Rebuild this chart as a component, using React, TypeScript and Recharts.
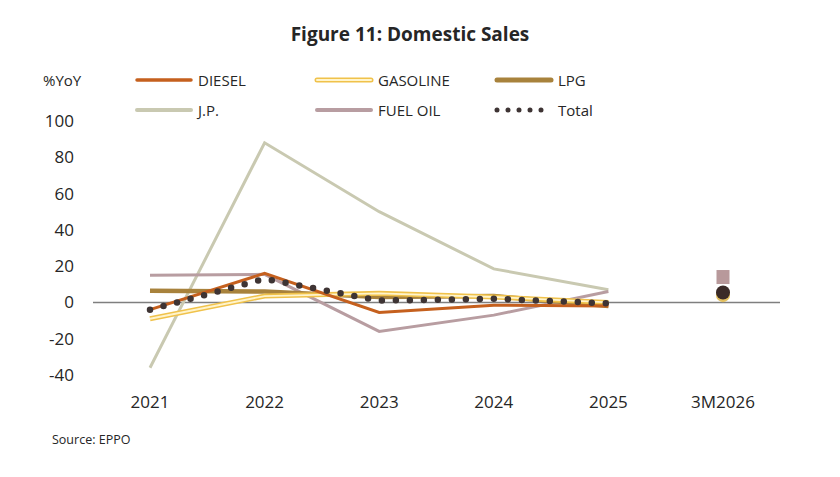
import { LineChart, Line, XAxis, YAxis, ReferenceLine } from 'recharts';

const years = ['2021', '2022', '2023', '2024', '2025', '3M2026'];
const diesel = [-4, 16, -5.5, -1.5, -2, null];
const gasoline = [-9, 3.5, 5, 3, 0, null];
const lpg = [6.5, 6, 3, 3.5, -2, null];
const jp = [-36, 88, 50, 18.5, 7, null];
const fuelOil = [15, 15.5, -16, -7, 6, null];
const total = [-4, 13, 1, 2, -0.5, null];

// 3M2026 is shown as single markers only
const fuelOil3M = 14;
const total3M = 5.5;
const gasoline3M = 4;

const yTicks = [-40, -20, 0, 20, 40, 60, 80, 100];

const data = years.map((year, i) => ({
    year,
    diesel: diesel[i],
    gasoline: gasoline[i],
    lpg: lpg[i],
    jp: jp[i],
    fuelOil: fuelOil[i],
    total: total[i],
    fuelOilMark: i === years.length - 1 ? fuelOil3M : null,
    totalMark: i === years.length - 1 ? total3M : null,
    gasolineMark: i === years.length - 1 ? gasoline3M : null,
}));

const FONT = '"Open Sans", sans-serif';
const TEXT = '#262626';

const SquareDot = (props: any) => {
    const { cx, cy, value } = props;
    if (value == null || cx == null) return null;
    return <rect x={cx - 6.5} y={cy - 7} width={13} height={14} fill='#B8999B' />;
};

const RoundDot = (color: string, r: number) => (props: any) => {
    const { cx, cy, value } = props;
    if (value == null || cx == null) return null;
    return <circle cx={cx} cy={cy} r={r} fill={color} />;
};

function Swatch({ kind }: { kind: string }) {
    if (kind === 'gasoline') {
        return (
            <svg width={60} height={10}>
                <line x1={3} y1={5} x2={57} y2={5} stroke='#F0C24B' strokeWidth={5} strokeLinecap='round' />
                <line x1={3} y1={5} x2={57} y2={5} stroke='#FFF4CC' strokeWidth={2} strokeLinecap='round' />
            </svg>
        );
    }
    if (kind === 'total') {
        return (
            <svg width={60} height={10}>
                <line x1={3} y1={5} x2={58} y2={5} stroke='#3E3434' strokeWidth={5} strokeLinecap='round' strokeDasharray='0 11' />
            </svg>
        );
    }
    const colors: Record<string, [string, number]> = {
        diesel: ['#C5601E', 3.5],
        lpg: ['#A8823C', 5],
        jp: ['#C9C9B1', 4],
        fuelOil: ['#B89DA1', 4],
    };
    const [c, w] = colors[kind];
    return (
        <svg width={60} height={10}>
            <line x1={3} y1={5} x2={57} y2={5} stroke={c} strokeWidth={w} strokeLinecap='round' />
        </svg>
    );
}

const legendItems = [
    { kind: 'diesel', label: 'DIESEL', x: 134, y: 80 },
    { kind: 'gasoline', label: 'GASOLINE', x: 314, y: 80 },
    { kind: 'lpg', label: 'LPG', x: 494, y: 80 },
    { kind: 'jp', label: 'J.P.', x: 134, y: 110 },
    { kind: 'fuelOil', label: 'FUEL OIL', x: 314, y: 110 },
    { kind: 'total', label: 'Total', x: 494, y: 110 },
];

export default function App() {
    return (
        <div
            style={{
                position: 'absolute',
                left: 0,
                top: 0,
                width: 840,
                height: 477,
                background: '#fff',
                fontFamily: FONT,
                color: TEXT,
            }}
        >
            <div
                style={{
                    position: 'absolute',
                    top: 21,
                    width: 820,
                    textAlign: 'center',
                    fontWeight: 700,
                    fontSize: 19,
                }}
            >
                Figure 11: Domestic Sales
            </div>
            <div style={{ position: 'absolute', left: 43, top: 70, fontSize: 15 }}>%YoY</div>
            {legendItems.map((it) => (
                <div
                    key={it.kind}
                    style={{
                        position: 'absolute',
                        left: it.x,
                        top: it.y - 11,
                        display: 'flex',
                        alignItems: 'center',
                        fontSize: 15,
                        height: 22,
                    }}
                >
                    <Swatch kind={it.kind} />
                    <span style={{ marginLeft: 4 }}>{it.label}</span>
                </div>
            ))}
            <div style={{ position: 'absolute', left: 52, top: 431, fontSize: 12.5 }}>Source: EPPO</div>

            <LineChart
                width={840}
                height={477}
                data={data}
                margin={{ top: 121, right: 60, bottom: 72, left: 33 }}
                style={{ position: 'absolute', left: 0, top: 0 }}
            >
                <XAxis
                    dataKey='year'
                    axisLine={false}
                    tickLine={false}
                    tickMargin={15}
                    height={30}
                    padding={{ left: 57, right: 57 }}
                    tick={{ fill: TEXT, fontSize: 17, fontFamily: FONT }}
                />
                <YAxis
                    domain={[-40, 100]}
                    ticks={yTicks}
                    axisLine={false}
                    tickLine={false}
                    tickMargin={13}
                    width={60}
                    tick={{ fill: TEXT, fontSize: 17, fontFamily: FONT }}
                />
                <ReferenceLine y={0} stroke='#7F7F7F' strokeWidth={1.5} />
                <Line dataKey='jp' stroke='#C9C9B1' strokeWidth={3} dot={false} isAnimationActive={false} />
                <Line dataKey='fuelOil' stroke='#B89DA1' strokeWidth={3} dot={false} isAnimationActive={false} />
                <Line dataKey='lpg' stroke='#A8823C' strokeWidth={4.5} dot={false} isAnimationActive={false} />
                <Line dataKey='gasoline' stroke='#F0C24B' strokeWidth={5} dot={false} isAnimationActive={false} />
                <Line dataKey='gasoline' stroke='#FFF4CC' strokeWidth={1.8} dot={false} isAnimationActive={false} />
                <Line dataKey='diesel' stroke='#C5601E' strokeWidth={3} dot={false} isAnimationActive={false} />
                <Line
                    dataKey='total'
                    stroke='#3E3434'
                    strokeWidth={6.5}
                    strokeLinecap='round'
                    strokeDasharray='0 14'
                    dot={false}
                    isAnimationActive={false}
                />
                <Line dataKey='fuelOilMark' stroke='none' dot={<SquareDot />} isAnimationActive={false} />
                <Line dataKey='gasolineMark' stroke='none' dot={RoundDot('#E3C060', 7)} isAnimationActive={false} />
                <Line dataKey='totalMark' stroke='none' dot={RoundDot('#3A2A27', 7)} isAnimationActive={false} />
            </LineChart>
        </div>
    );
}
